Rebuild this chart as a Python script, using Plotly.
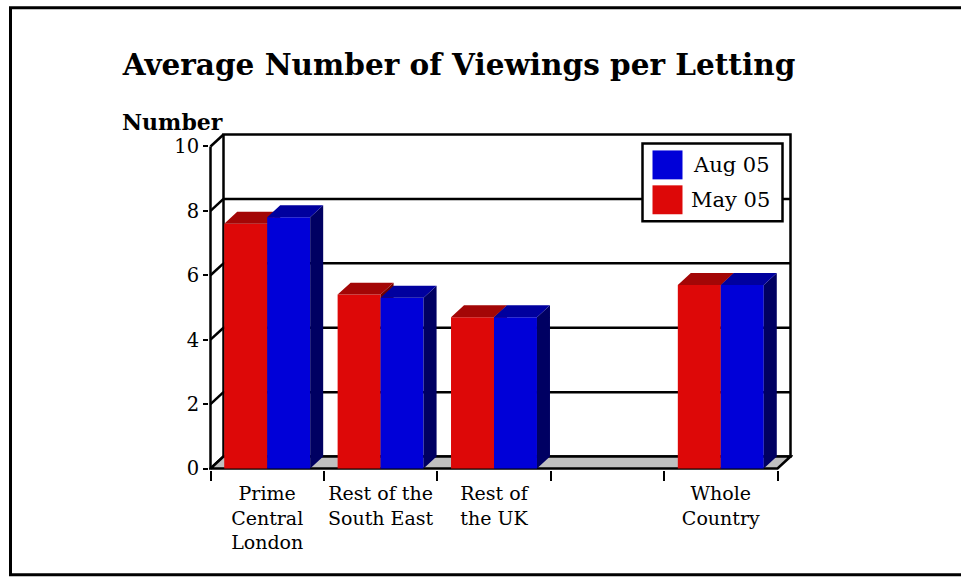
import plotly.graph_objects as go

# ---- data -------------------------------------------------------------
categories = ["Prime Central London", "Rest of the South East", "Rest of the UK", "", "Whole Country"]
category_labels = ["Prime<br>Central<br>London", "Rest of the<br>South East", "Rest of<br>the UK", "", "Whole<br>Country"]
may_05 = [7.6, 5.4, 4.7, None, 5.7]
aug_05 = [7.8, 5.3, 4.7, None, 5.7]
y_ticks = [0, 2, 4, 6, 8, 10]
y_max = 10

# ---- styling ----------------------------------------------------------
FONT = "DejaVu Serif"
RED_FRONT, RED_TOP, RED_SIDE = "#DD0808", "#A30606", "#700000"
BLUE_FRONT, BLUE_TOP, BLUE_SIDE = "#0000D8", "#00009E", "#000062"
FLOOR = "#C0C0C0"
LINE_W = 2.5

W, H = 961, 577
UX, UY = 113.4, 32.3              # pixels per category slot / per value unit
FRONT_LEFT, FRONT_BOTTOM = 210, 469
DX, DY = 13 / UX, 12 / UY         # 3-D depth offset in axis units
PAD_L, PAD_B, PAD_R, PAD_T = 1.5, 1.5, 2.5, 2.5
BAR_W = 0.379

n = len(categories)
x_lo, x_hi = -0.5 - PAD_L / UX, n - 0.5 + DX + PAD_R / UX
y_lo, y_hi = -PAD_B / UY, y_max + DY + PAD_T / UY
plot_w = (x_hi - x_lo) * UX
plot_h = (y_hi - y_lo) * UY
ml = FRONT_LEFT - PAD_L
mb = H - FRONT_BOTTOM - PAD_B
mr = W - ml - plot_w
mt = H - mb - plot_h


def pap(x, y):
    """Pixel position -> paper fractions."""
    return (x - ml) / plot_w, (H - mb - y) / plot_h


def faces(values, offset):
    """Top and right-side polygons of each 3-D bar, in axis units."""
    tops_x, tops_y, side_x, side_y = [], [], [], []
    for i, v in enumerate(values):
        if v is None:
            continue
        x0, x1 = i + offset, i + offset + BAR_W
        tops_x += [x0, x1, x1 + DX, x0 + DX, x0, None]
        tops_y += [v, v, v + DY, v + DY, v, None]
        side_x += [x1, x1, x1 + DX, x1 + DX, x1, None]
        side_y += [0, v, v + DY, DY, 0, None]
    return tops_x, tops_y, side_x, side_y


positions = list(range(n))
fig = go.Figure()


def add_series(name, values, offset, front, top, side, xa, ya):
    fig.add_trace(go.Bar(
        x=positions, y=values, name=name, width=BAR_W, offset=offset,
        marker=dict(color=front, line=dict(width=0)),
        xaxis=xa, yaxis=ya, showlegend=False, hoverinfo="skip",
    ))
    tx, ty, sx, sy = faces(values, offset)
    for px_, py_, col in ((sx, sy, side), (tx, ty, top)):
        fig.add_trace(go.Scatter(
            x=px_, y=py_, mode="lines", fill="toself", fillcolor=col,
            line=dict(width=0, color=col), xaxis=xa, yaxis=ya,
            showlegend=False, hoverinfo="skip",
        ))


# May 05 sits on the base axes, Aug 05 on an overlay so it is drawn in front
add_series("May 05", may_05, -BAR_W, RED_FRONT, RED_TOP, RED_SIDE, "x", "y")
add_series("Aug 05", aug_05, 0.0, BLUE_FRONT, BLUE_TOP, BLUE_SIDE, "x2", "y2")

# ---- walls and floor ----------------------------------------------------
shapes = []
left, right = -0.5, n - 0.5
line = dict(color="black", width=LINE_W)
# back wall outline and grid
shapes.append(dict(type="rect", xref="x", yref="y", x0=left + DX, x1=right + DX,
                   y0=DY, y1=y_max + DY, line=line, layer="below"))
for v in y_ticks[1:-1]:
    shapes.append(dict(type="line", xref="x", yref="y", x0=left + DX, x1=right + DX,
                       y0=v + DY, y1=v + DY, line=line, layer="below"))
# side wall grid (diagonals)
for v in y_ticks:
    shapes.append(dict(type="line", xref="x", yref="y", x0=left, x1=left + DX,
                       y0=v, y1=v + DY, line=line, layer="below"))
# front value axis
shapes.append(dict(type="line", xref="x", yref="y", x0=left, x1=left,
                   y0=0, y1=y_max, line=line, layer="below"))
# floor
shapes.append(dict(type="path", xref="x", yref="y",
                   path=f"M {left},0 L {right},0 L {right + DX},{DY} L {left + DX},{DY} Z",
                   fillcolor=FLOOR, line=line, layer="below"))

# outer frame
bx0, by0 = pap(10, 7)
bx1, by1 = pap(990, 575.5)
shapes.append(dict(type="rect", xref="paper", yref="paper", x0=bx0, x1=bx1,
                   y0=by1, y1=by0, line=dict(color="black", width=3), layer="below"))

# legend box and swatches
lx0, ly0 = pap(642, 143)
lx1, ly1 = pap(782, 221)
shapes.append(dict(type="rect", xref="paper", yref="paper", x0=lx0, x1=lx1,
                   y0=ly1, y1=ly0, line=line, fillcolor="white", layer="above"))
annotations = []
legend_items = [("Aug 05", BLUE_FRONT, 150), ("May 05", RED_FRONT, 185)]
for label, col, top_px in legend_items:
    sx0, sy0 = pap(652, top_px)
    sx1, sy1 = pap(682, top_px + 29)
    shapes.append(dict(type="rect", xref="paper", yref="paper", x0=sx0, x1=sx1,
                       y0=sy1, y1=sy0, line=dict(width=0), fillcolor=col, layer="above"))
    tx, ty = pap(772, top_px + 15)
    annotations.append(dict(text=label, xref="paper", yref="paper", x=tx, y=ty,
                            xanchor="right", yanchor="middle", showarrow=False,
                            font=dict(family=FONT, size=21, color="black")))

# value axis caption
nx, ny = pap(119, 121)
annotations.append(dict(text="<b>Number</b>", xref="paper", yref="paper", x=nx, y=ny,
                        xanchor="left", yanchor="middle", showarrow=False,
                        font=dict(family=FONT, size=22, color="black")))

fig.update_layout(
    width=W, height=H,
    margin=dict(l=ml, r=mr, t=mt, b=mb, pad=0),
    paper_bgcolor="white", plot_bgcolor="rgba(0,0,0,0)",
    showlegend=False, barmode="overlay",
    title=dict(text="<b>Average Number of Viewings per Letting</b>",
               x=459 / W, y=1 - 65 / H, xref="container", yref="container",
               xanchor="center", yanchor="middle",
               font=dict(family=FONT, size=29.5, color="black")),
    xaxis=dict(range=[x_lo, x_hi], tickmode="array",
               tickvals=[i - 0.5 for i in range(n + 1)], ticktext=[""] * (n + 1),
               ticks="outside", ticklen=10, tickwidth=2, tickcolor="black",
               showgrid=False, zeroline=False, showline=False, fixedrange=True),
    yaxis=dict(range=[y_lo, y_hi], tickmode="array", tickvals=y_ticks,
               ticks="outside", ticklen=5, tickwidth=2, tickcolor="black",
               tickfont=dict(family=FONT, size=19.5, color="black"),
               showgrid=False, zeroline=False, showline=False, fixedrange=True),
    xaxis2=dict(range=[x_lo, x_hi], overlaying="x", anchor="y2", side="bottom",
                tickmode="array", tickvals=positions, ticktext=category_labels,
                ticks="", ticklabelstandoff=10,
                tickfont=dict(family=FONT, size=19, color="black"),
                showgrid=False, zeroline=False, showline=False, fixedrange=True),
    yaxis2=dict(range=[y_lo, y_hi], overlaying="y", anchor="x2",
                showticklabels=False, ticks="",
                showgrid=False, zeroline=False, showline=False, fixedrange=True),
    shapes=shapes, annotations=annotations,
)

fig.write_html("out.html")
